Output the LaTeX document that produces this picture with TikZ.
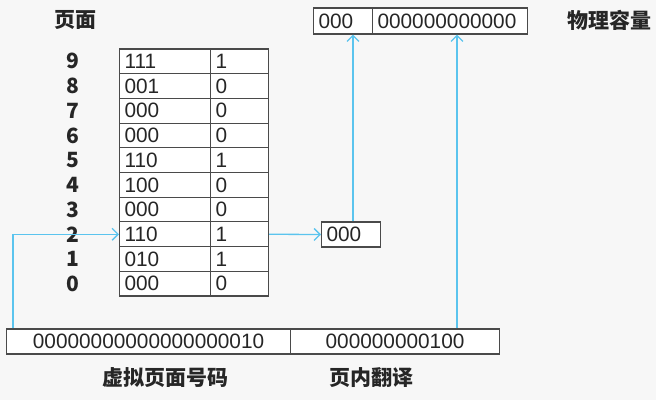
\documentclass[tikz,border=0pt]{standalone}
\usepackage{fontspec}
\setmainfont{Noto Sans CJK SC}
\newfontfamily\cellfont{Liberation Sans}
\usetikzlibrary{arrows.meta,calc}
\definecolor{bgc}{HTML}{F7F7F7}
\definecolor{edge}{HTML}{4A4A4A}
\definecolor{link}{HTML}{5BC4EE}
\tikzset{
  cellbase/.style={draw=edge, line width=1.1pt, fill=white, inner sep=0pt, minimum height=24.7pt, text=black!85, font=\fontsize{20.8}{24}\cellfont},
  lcell/.style={cellbase, text width=#1, align=left, inner xsep=5pt},
  ccell/.style={cellbase, minimum width=#1, align=center},
  rownum/.style={text=black!85, font=\fontsize{21}{24}\selectfont\bfseries},
  caption/.style={text=black!85, font=\fontsize{21}{24}\selectfont\bfseries},
  linkarrow/.style={draw=link, line width=1.3pt, -{Straight Barb[length=6pt,width=12pt,line width=1.3pt]}}
}
\begin{document}
\begin{tikzpicture}[x=1pt,y=-1pt]
\fill[bgc] (0,0) rectangle (656,400);
\useasboundingbox (0,0) rectangle (656,400);
% headings
\node[caption] (hpage) at (75,20) {页面};
\node[caption] (hphys) at (609,20) {物理容量};
\node[caption] (hvpn) at (165,378) {虚拟页面号码};
\node[caption] (hoff) at (371,378) {页内翻译};
% page table
\foreach \i/\f/\v in {9/111/1,8/001/0,7/000/0,6/000/0,5/110/1,4/100/0,3/000/0,2/110/1,1/010/1,0/000/0}{
  \pgfmathsetmacro{\yc}{49+(9-\i)*24.7+12.35}
  \node[rownum] (n\i) at (73,\yc) {\i};
  \node[lcell=81pt, anchor=west] (r\i a) at (119,\yc) {\f};
  \node[lcell=48pt, anchor=west] (r\i b) at (210,\yc) {\v};
}
% physical address
\node[lcell=49pt, anchor=west, minimum height=26pt] (pa) at (313,21) {000};
\node[lcell=145pt, anchor=west, minimum height=26pt] (pb) at (372,21) {000000000000};
% frame number
\node[lcell=49pt, anchor=west, minimum height=25pt] (mid) at (321,234.5) {000};
% virtual address
\node[ccell=284pt, anchor=west, minimum height=25pt] (b1) at (6,341.5) {00000000000000000010};
\node[ccell=209pt, anchor=west, minimum height=25pt] (b2) at (290,341.5) {000000000100};
% connectors
\coordinate (s1) at ($(b1.north west)+(7,0)$);
\draw[linkarrow] (s1) |- (r2a.west);
\draw[linkarrow] (r2b.east) -- (mid.west);
\coordinate (s3) at ($(mid.north west)+(32,0)$);
\draw[linkarrow] (s3) -- (s3 |- pa.south);
\coordinate (s4) at ($(b2.north west)+(167,0)$);
\draw[linkarrow] (s4) -- (s4 |- pb.south);
\end{tikzpicture}
\end{document}
